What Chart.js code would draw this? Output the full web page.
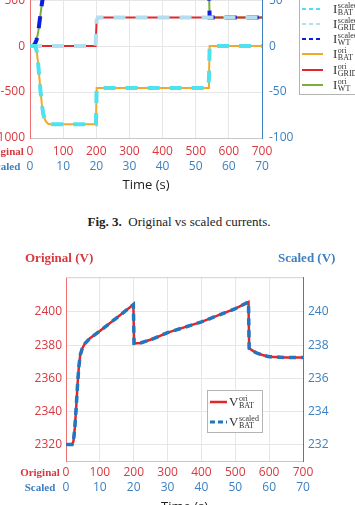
<!DOCTYPE html>
<html lang="en">
<head>
<meta charset="UTF-8">
<title>Original vs scaled currents and battery voltage</title>
<script src="https://cdn.jsdelivr.net/npm/chart.js"></script>
<style>
  html, body { margin: 0; padding: 0; background: #fff; }
  body { position: relative; width: 355px; height: 505px; overflow: hidden; }
  .abs { position: absolute; white-space: nowrap; }
  .rowlab { font-family: "Liberation Serif", serif; font-weight: bold; font-size: 11px; line-height: 14px; width: 40px; text-align: center; }
  .red { color: #d9383f; }
  .blue { color: #3c80c2; }
</style>
</head>
<body>
<div class="abs" style="left:0;top:0;width:355px;height:200px;overflow:hidden">
  <canvas id="currents" width="415" height="262" style="position:absolute;left:-60px;top:-60px"></canvas>
</div>
<div class="abs rowlab red" style="left:-16px;top:144px">Original</div>
<div class="abs rowlab blue" style="left:-15px;top:159px">Scaled</div>
<div class="abs" style="left:0;top:214px;width:358px;text-align:center;font-family:'Liberation Serif',serif;font-size:13px;line-height:16px;color:#222">
  <b>Fig. 3.</b>&nbsp; Original vs scaled currents.
</div>

<div class="abs red" style="left:25px;top:250px;font-family:'Liberation Serif',serif;font-weight:bold;font-size:13px;line-height:16px">Original (V)</div>
<div class="abs blue" style="left:278px;top:250px;font-family:'Liberation Serif',serif;font-weight:bold;font-size:13px;line-height:16px">Scaled (V)</div>
<canvas id="voltage" width="355" height="262" style="position:absolute;left:0;top:265px"></canvas>
<div class="abs rowlab red" style="left:20px;top:465px">Original</div>
<div class="abs rowlab blue" style="left:20px;top:480px">Scaled</div>

<script>
// ---- Fig. 3 currents (original: A over s, scaled: A/10 over s/10)
const batT = [0, 16, 20, 24, 28, 32, 36, 40, 45, 50, 55, 60, 199, 201, 538, 540, 542, 700];
const batI = [0, 0, -50, -170, -330, -500, -640, -740, -800, -830, -845, -850, -850, -455, -455, -350, 0, 0];
const gridT = [0, 198, 201, 205, 700];
const gridI = [0, 0, 280, 310, 310];
const wtT = [0, 10, 15, 20, 25, 30, 35, 40, 50, 60, 538, 540, 542, 700];
const wtI = [0, 5, 25, 70, 160, 300, 440, 560, 900, 1100, 1100, 600, 310, 310];

const batTs = [0, 1.6, 2.0, 2.4, 2.8, 3.2, 3.6, 4.0, 4.5, 5.0, 5.5, 6.0, 19.9, 20.1, 53.8, 54.0, 54.2, 70];
const batIs = [0, 0, -5, -17, -33, -50, -64, -74, -80, -83, -84.5, -85, -85, -45.5, -45.5, -35, 0, 0];
const gridTs = [0, 19.8, 20.1, 20.5, 70];
const gridIs = [0, 0, 28, 31, 31];
const wtTs = [0, 1.0, 1.5, 2.0, 2.5, 3.0, 3.5, 4.0, 5.0, 6.0, 53.8, 54.0, 54.2, 70];
const wtIs = [0, 0.5, 2.5, 7, 16, 30, 44, 56, 90, 110, 110, 60, 31, 31];

// ---- battery voltage
const vT = [0, 18, 22, 26, 30, 34, 38, 42, 48, 56, 70, 100, 150, 199, 201, 220, 260, 300, 400, 500, 539, 541, 560, 580, 600, 650, 700];
const vOri = [2320, 2320, 2322, 2330, 2342, 2356, 2367, 2374, 2378, 2381, 2384, 2388.5, 2396.5, 2404.5, 2381, 2381.3, 2384, 2387.5, 2394, 2402, 2406, 2378, 2375.5, 2374, 2373, 2372.5, 2372.5];
const vTs = [0, 1.8, 2.2, 2.6, 3.0, 3.4, 3.8, 4.2, 4.8, 5.6, 7.0, 10, 15, 19.9, 20.1, 22, 26, 30, 40, 50, 53.9, 54.1, 56, 58, 60, 65, 70];
const vScaled = [232, 232, 232.2, 233, 234.2, 235.6, 236.7, 237.4, 237.8, 238.1, 238.4, 238.85, 239.65, 240.45, 238.1, 238.13, 238.4, 238.75, 239.4, 240.2, 240.6, 237.8, 237.55, 237.4, 237.3, 237.25, 237.25];

// ---- tick labels
const timeTicks = [0, 100, 200, 300, 400, 500, 600, 700];
const timeTicksScaled = [0, 10, 20, 30, 40, 50, 60, 70];
const currentTicks = [-1000, -500, 0, 500, 1000];
const currentTicksScaled = [-100, -50, 0, 50, 100];
const voltTicks = [2320, 2340, 2360, 2380, 2400];
const voltTicksScaled = [232, 234, 236, 238, 240];

const RED = '#d9383f';
const BLUE = '#3c80c2';
const GRID = '#e6e6e6';
const tickFont = { family: 'Open Sans', size: 12 };

const pts = (xs, ys) => xs.map((x, i) => ({ x: x, y: ys[i] }));
const fixedTicks = list => (s => { s.ticks = list.map(v => ({ value: v })); });

// legend with sub/superscripts, drawn after the chart
function mathLegend(box, rows) {
  return {
    id: 'mathLegend',
    afterDraw(chart) {
      const ctx = chart.ctx;
      ctx.save();
      ctx.fillStyle = '#fff';
      ctx.strokeStyle = '#b4b4b4';
      ctx.lineWidth = 1;
      ctx.fillRect(box.x, box.y, box.w, box.h);
      ctx.strokeRect(box.x + 0.5, box.y + 0.5, box.w, box.h);
      rows.forEach(r => {
        const ds = chart.data.datasets[r.ds];
        ctx.strokeStyle = ds.borderColor;
        ctx.lineWidth = r.lw;
        ctx.setLineDash(r.dash);
        ctx.beginPath();
        ctx.moveTo(box.lineX, r.y);
        ctx.lineTo(box.lineX + box.lineW, r.y);
        ctx.stroke();
        ctx.setLineDash([]);
        ctx.fillStyle = '#333';
        ctx.textBaseline = 'middle';
        ctx.font = '13px "Liberation Serif"';
        ctx.fillText(r.base, box.textX, r.y + 1);
        const w = ctx.measureText(r.base).width;
        ctx.font = '8px "Liberation Serif"';
        ctx.fillText(r.sup, box.textX + w + 0.5, r.y - 3);
        ctx.fillText(r.sub, box.textX + w + 0.5, r.y + 4);
      });
      ctx.restore();
    }
  };
}

// top border of the plot box (MATLAB style box)
const boxTop = {
  id: 'boxTop',
  afterDraw(chart) {
    const a = chart.chartArea, ctx = chart.ctx;
    ctx.save();
    ctx.strokeStyle = '#d0d0d0';
    ctx.lineWidth = 1;
    ctx.beginPath();
    ctx.moveTo(a.left, a.top + 0.5);
    ctx.lineTo(a.right, a.top + 0.5);
    ctx.stroke();
    ctx.restore();
  }
};

function line(label, data, color, width, dash, xAxis, yAxis) {
  return {
    label: label, data: data, borderColor: color, backgroundColor: color,
    borderWidth: width, borderDash: dash, pointRadius: 0, tension: 0,
    xAxisID: xAxis, yAxisID: yAxis
  };
}

function axes(o) {
  return {
    x: {
      type: 'linear', position: 'bottom', min: 0, max: 700,
      afterBuildTicks: fixedTicks(timeTicks),
      ticks: { color: RED, font: tickFont, padding: o.xPad, maxRotation: 0, autoSkip: false, callback: v => String(v) },
      grid: { color: GRID, drawTicks: false },
      border: { color: '#c8c8c8' },
      afterFit: s => { s.height = o.xH; }
    },
    x2: {
      type: 'linear', position: 'bottom', min: 0, max: 70, weight: 1,
      afterBuildTicks: fixedTicks(timeTicksScaled),
      ticks: { color: BLUE, font: tickFont, padding: o.x2Pad, maxRotation: 0, autoSkip: false, callback: v => String(v) },
      grid: { display: false, drawTicks: false },
      border: { display: false },
      title: { display: true, text: 'Time (s)', color: '#222', font: { family: 'Open Sans', size: 13 }, padding: { top: 4, bottom: o.titleBottom } },
      afterFit: s => { s.height = o.x2H; }
    },
    y: {
      position: 'left', min: o.yMin, max: o.yMax,
      afterBuildTicks: fixedTicks(o.yTicks),
      ticks: { color: RED, font: tickFont, padding: o.yPad, autoSkip: false, callback: v => String(v) },
      grid: { color: GRID, drawTicks: false },
      border: { color: '#f07070' },
      afterFit: s => { s.width = o.yW; }
    },
    y2: {
      position: 'right', min: o.y2Min, max: o.y2Max,
      afterBuildTicks: fixedTicks(o.y2Ticks),
      ticks: { color: BLUE, font: tickFont, padding: o.y2Pad, autoSkip: false, callback: v => String(v) },
      grid: { display: false, drawTicks: false },
      border: { color: BLUE },
      afterFit: s => { s.width = o.y2W; }
    }
  };
}

new Chart(document.getElementById('currents'), {
  type: 'line',
  data: {
    datasets: [
      line('I scaled BAT', pts(batTs, batIs), '#4ee2ee', 4, [12, 10], 'x2', 'y2'),
      line('I scaled GRID', pts(gridTs, gridIs), '#b2def0', 4, [12, 10], 'x2', 'y2'),
      line('I scaled WT', pts(wtTs, wtIs), '#0c1ee0', 4, [12, 10], 'x2', 'y2'),
      line('I ori BAT', pts(batT, batI), '#f0a92c', 2, [], 'x', 'y'),
      line('I ori GRID', pts(gridT, gridI), '#e3262a', 2, [], 'x', 'y'),
      line('I ori WT', pts(wtT, wtI), '#7aad3c', 2, [], 'x', 'y')
    ]
  },
  options: {
    responsive: false,
    animation: false,
    layout: { padding: { top: 14, left: 0, right: 0, bottom: 0 } },
    plugins: { legend: { display: false }, tooltip: { enabled: false } },
    scales: axes({
      xPad: 6, xH: 20, x2Pad: 1, x2H: 44, titleBottom: 9,
      yMin: -1000, yMax: 1000, yTicks: currentTicks, yPad: 5, yW: 90,
      y2Min: -100, y2Max: 100, y2Ticks: currentTicksScaled, y2Pad: 7, y2W: 93
    })
  },
  plugins: [mathLegend(
    { x: 359, y: 48, w: 70, h: 106, lineX: 362, lineW: 21, textX: 393 },
    [
      { ds: 0, y: 69, lw: 2, dash: [4, 3], base: 'I', sup: 'scaled', sub: 'BAT' },
      { ds: 1, y: 84, lw: 2, dash: [4, 3], base: 'I', sup: 'scaled', sub: 'GRID' },
      { ds: 2, y: 99, lw: 2, dash: [4, 3], base: 'I', sup: 'scaled', sub: 'WT' },
      { ds: 3, y: 114, lw: 2, dash: [], base: 'I', sup: 'ori', sub: 'BAT' },
      { ds: 4, y: 130, lw: 2, dash: [], base: 'I', sup: 'ori', sub: 'GRID' },
      { ds: 5, y: 145, lw: 2, dash: [], base: 'I', sup: 'ori', sub: 'WT' }
    ]
  )]
});

new Chart(document.getElementById('voltage'), {
  type: 'line',
  data: {
    datasets: [
      line('V scaled BAT', pts(vTs, vScaled), '#1f77c0', 3.5, [7, 5], 'x2', 'y2'),
      line('V ori BAT', pts(vT, vOri), '#e3262a', 2.5, [], 'x', 'y')
    ]
  },
  options: {
    responsive: false,
    animation: false,
    layout: { padding: { top: 12, left: 0, right: 0, bottom: 0 } },
    plugins: { legend: { display: false }, tooltip: { enabled: false } },
    scales: axes({
      xPad: 4, xH: 16, x2Pad: 3, x2H: 50, titleBottom: 12,
      yMin: 2310, yMax: 2421, yTicks: voltTicks, yPad: 4, yW: 66,
      y2Min: 231, y2Max: 242.1, y2Ticks: voltTicksScaled, y2Pad: 5, y2W: 52
    })
  },
  plugins: [boxTop, mathLegend(
    { x: 207, y: 125, w: 55, h: 42, lineX: 210, lineW: 17, textX: 229 },
    [
      { ds: 1, y: 137, lw: 2.5, dash: [], base: 'V', sup: 'ori', sub: 'BAT' },
      { ds: 0, y: 157, lw: 3, dash: [5, 3], base: 'V', sup: 'scaled', sub: 'BAT' }
    ]
  )]
});
</script>
</body>
</html>
